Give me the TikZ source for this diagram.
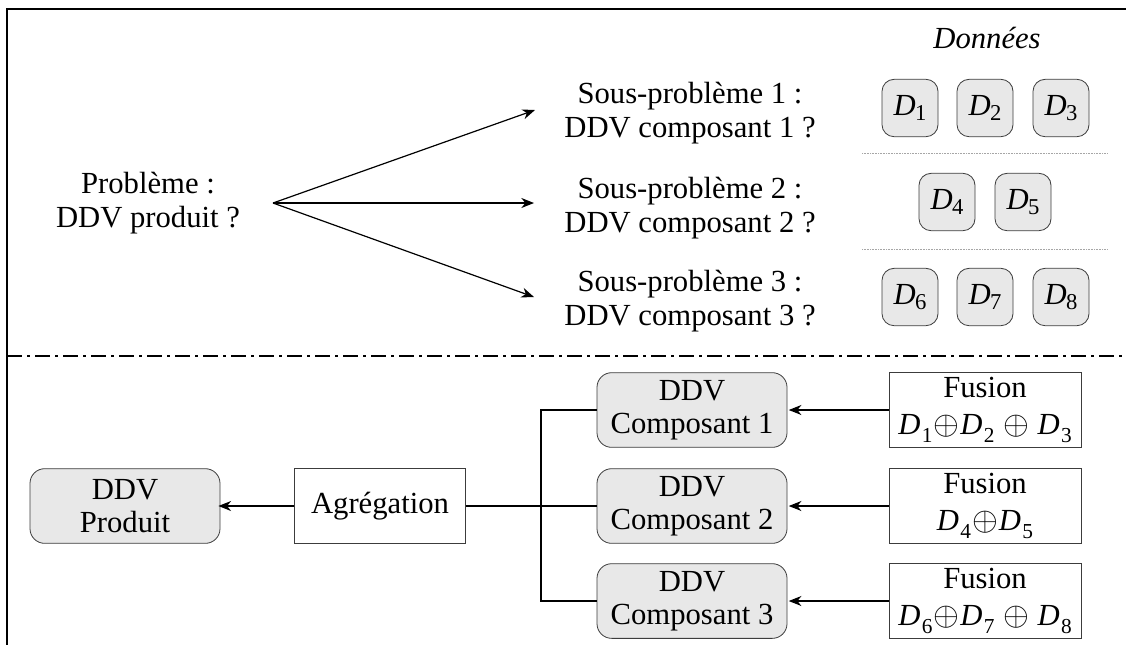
\documentclass[tikz,border=0pt]{standalone}
\usepackage{fontspec}
\setmainfont{Liberation Serif}
\newfontfamily\tms{Liberation Serif}
\usetikzlibrary{arrows.meta}
\definecolor{boxgray}{RGB}{232,232,232}
\definecolor{edgegray}{RGB}{60,60,60}
\newcommand\Dsub[1]{\textit{D}\kern-0.5pt\raisebox{-0.3ex}{\fontsize{17}{17}\selectfont #1}}
\newcommand\Dlow[1]{\textit{D}\kern1pt\raisebox{-0.55ex}{\fontsize{16}{16}\selectfont #1}}
\newcommand\opl{\kern1pt$\oplus$\kern0.5pt}
\begin{document}
\begin{tikzpicture}[x=0.75pt,y=-0.75pt,
  font=\tms\fontsize{23}{25}\selectfont,
  txt/.style={align=center, inner sep=0pt},
  dbox/.style={draw=edgegray, fill=boxgray, rounded corners=9pt, minimum width=42pt, minimum height=43pt, inner sep=0pt, line width=0.6pt},
  gbox/.style={draw=edgegray, fill=boxgray, rounded corners=11pt, minimum width=142.5pt, minimum height=56pt, align=center, inner sep=0pt, line width=0.6pt},
  wbox/.style={draw=edgegray, fill=white, minimum height=56pt, align=center, inner sep=0pt, line width=0.6pt},
  arr/.style={-{Stealth[length=9.5pt,width=7.5pt,inset=3pt]}, line width=0.9pt},
  conn/.style={line width=0.9pt},
  sep/.style={gray!70, line width=0.5pt, dash pattern=on 0.6pt off 0.6pt},
  frame/.style={line width=2pt}
]
\useasboundingbox (0,0) rectangle (1126,644);
% frame
\draw[frame] (7,8) -- (7,648);
\draw[frame] (6,9) -- (1130,9);

% top part
\node[txt] (prob) at (148,203) {Problème :\\DDV produit ?};
\coordinate (o) at (273,203);
\node[txt] (sp1) at (690,113) {Sous-problème 1 :\\DDV composant 1 ?};
\node[txt] (sp2) at (690,208) {Sous-problème 2 :\\DDV composant 2 ?};
\node[txt] (sp3) at (690,301) {Sous-problème 3 :\\DDV composant 3 ?};
\coordinate (t1) at (535,110);
\coordinate (t2) at (534,203);
\coordinate (t3) at (534,297);
\draw[arr] (o) -- (t1);
\draw[arr] (o) -- (t2);
\draw[arr] (o) -- (t3);

\node[txt, font=\tms\fontsize{23}{25}\selectfont\itshape] (donnees) at (987,38) {Données};
\node[dbox] (d1) at (910,108) {\Dsub{1}};
\node[dbox] (d2) at (985,108) {\Dsub{2}};
\node[dbox] (d3) at (1061,108) {\Dsub{3}};
\node[dbox] (d4) at (947,202) {\Dsub{4}};
\node[dbox] (d5) at (1023,202) {\Dsub{5}};
\node[dbox] (d6) at (910,297) {\Dsub{6}};
\node[dbox] (d7) at (985,297) {\Dsub{7}};
\node[dbox] (d8) at (1061,297) {\Dsub{8}};
\draw[sep] (862,153) -- (1107,153);
\draw[sep] (862,249) -- (1107,249);

% separator
\draw[line width=1.1pt, dash pattern=on 11pt off 4pt on 2pt off 4pt] (7,356) -- (1126,356);

% bottom part
\node[gbox] (prod) at (125,506) {DDV\\Produit};
\node[wbox, minimum width=128pt] (agg) at (380,506) {Agrégation};
\coordinate (j) at (541,506);
\node[gbox] (c1) at (692,410) {DDV\\Composant 1};
\node[gbox] (c2) at (692,506) {DDV\\Composant 2};
\node[gbox] (c3) at (692,601) {DDV\\Composant 3};
\node[wbox, minimum width=144pt] (f1) at (985,410) {Fusion\\[3pt]\Dlow{1}\opl\Dlow{2} \opl\ \Dlow{3}};
\node[wbox, minimum width=144pt] (f2) at (985,506) {Fusion\\[3pt]\Dlow{4}\opl\Dlow{5}};
\node[wbox, minimum width=144pt] (f3) at (985,601) {Fusion\\[3pt]\Dlow{6}\opl\Dlow{7} \opl\ \Dlow{8}};

\draw[arr] (agg.west) -- ([xshift=-1.5pt]prod.east);
\draw[conn] (agg.east) -- (j);
\draw[conn] (c1.west) -| (j) |- (c3.west);
\draw[conn] (j) -- (c2.west);
\draw[arr] (f1.west) -- ([xshift=1pt]c1.east);
\draw[arr] (f2.west) -- ([xshift=1pt]c2.east);
\draw[arr] (f3.west) -- ([xshift=1pt]c3.east);
\end{tikzpicture}
\end{document}
